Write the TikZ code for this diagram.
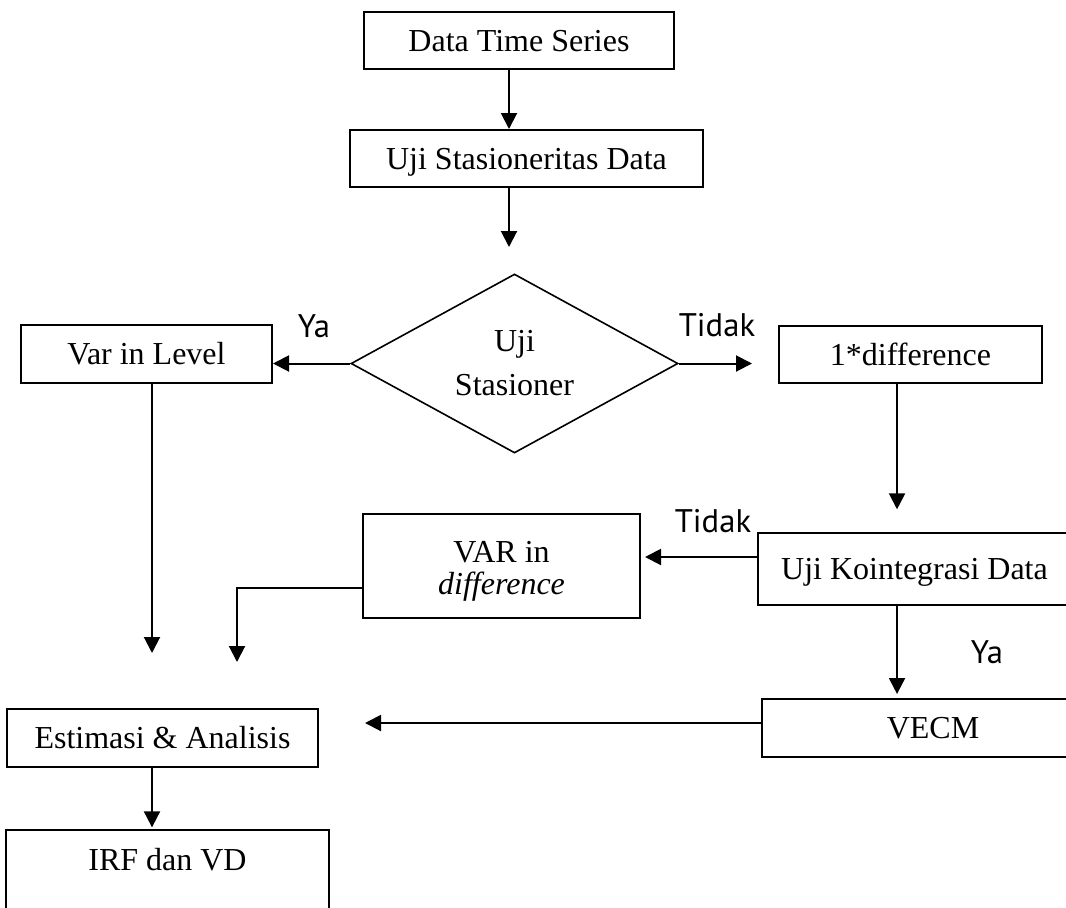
\documentclass[tikz,border=0pt]{standalone}
\usepackage{fontspec}
\setmainfont{Liberation Serif}
\newfontfamily\labelfont{PT Sans}
\usetikzlibrary{arrows.meta,shapes.geometric}

% one unit = one pixel of the layout grid, y grows downwards
\tikzset{
  px/.style 2 args={minimum width=#1*0.75pt, minimum height=#2*0.75pt},
  box/.style={draw, line width=1.5pt, inner sep=0pt,
    font=\fontsize{24}{28}\selectfont, text height=16.3pt, text depth=0pt},
  tallbox/.style={draw, line width=1.5pt, inner sep=0pt, align=center,
    font=\fontsize{24}{24}\selectfont},
  decision/.style={diamond, draw, line width=1.2pt, inner sep=0pt, aspect=1.83,
    align=center, font=\fontsize{24}{33}\selectfont},
  lbl/.style={inner sep=0pt, font=\labelfont\fontsize{24.5}{28}\selectfont,
    text height=17pt, text depth=0pt},
  arr/.style={-{Triangle[length=12pt,width=12pt]}, line width=1.5pt},
  frame/.style={line width=1.5pt}
}

\begin{document}
\begin{tikzpicture}[x=0.75pt, y=-0.75pt]
  \fill[white] (0,0) rectangle (1066,907);
  \useasboundingbox (0,0) rectangle (1066,907);

  % main column
  \node[box, px={310}{57}] (dts) at (519,40.5) {Data Time Series};
  \node[box, px={353}{57}] (usd) at (526.5,158.5) {Uji Stasioneritas Data};
  \node[decision, px={327}{179}] (dia) at (514.5,363.5) {Uji\\Stasioner};

  % left branch
  \node[box, px={251}{58}] (lev) at (146.5,354) {Var in Level};
  \node[box, px={311}{58}] (est) at (162.5,738) {Estimasi \& Analisis};
  \node[box, draw=none, px={321}{58}] (irf) at (167.5,860) {IRF dan VD};

  % right branch
  \node[box, px={263}{57}] (dif) at (910.5,354.5) {1*difference};
  \node[box, px={313}{72}] (koin) at (914.5,569) {Uji Kointegrasi Data};
  \node[tallbox, px={277}{104}] (var) at (501.5,566)
    {\rule{0pt}{23.7pt}VAR in\\\textit{difference}};
  \node[box, px={342}{58}] (vecm) at (933,728) {VECM};

  % branch labels
  \node[lbl] (ya1) at (314,326) {Ya};
  \node[lbl] (td1) at (717,325) {Tidak};
  \node[lbl] (td2) at (713,521) {Tidak};
  \node[lbl] (ya2) at (987,652) {Ya};

  % open arrow ends
  \coordinate (d1) at (509,247);
  \coordinate (e1) at (152,653);
  \coordinate (e2) at (237,662);
  \coordinate (e3) at (365,723);

  % last box runs past the lower edge
  \draw[frame] ([yshift=-60pt]irf.south west) |- (irf.north east)
    -- ([yshift=-60pt]irf.south east);

  % connectors
  \draw[arr] (dts.south -| d1) -- (usd.north -| d1);
  \draw[arr] (usd.south -| d1) -- (d1);
  \draw[arr] (dia.west) -- (dia.west -| lev.east);
  \draw[arr, shorten >=19.5pt] (dia.east) -- (dia.east -| dif.west);
  \draw[arr, shorten >=17pt] ([xshift=-10.1pt]dif.south)
    -- ([xshift=-10.1pt]dif.south |- koin.north);
  \draw[arr, shorten >=3pt] ([yshift=9pt]koin.west)
    -- ([yshift=9pt]koin.west -| var.east);
  \draw[arr, shorten >=3pt] ([xshift=-13.1pt]koin.south)
    -- ([xshift=-13.1pt]koin.south |- vecm.north);
  \draw[arr] (lev.south -| e1) -- (e1);
  \draw[arr] ([yshift=-16.5pt]var.west) -| (e2);
  \draw[arr] (vecm.west |- e3) -- (e3);
  \draw[arr, shorten >=2pt] (est.south -| e1) -- (irf.north -| e1);
\end{tikzpicture}
\end{document}
